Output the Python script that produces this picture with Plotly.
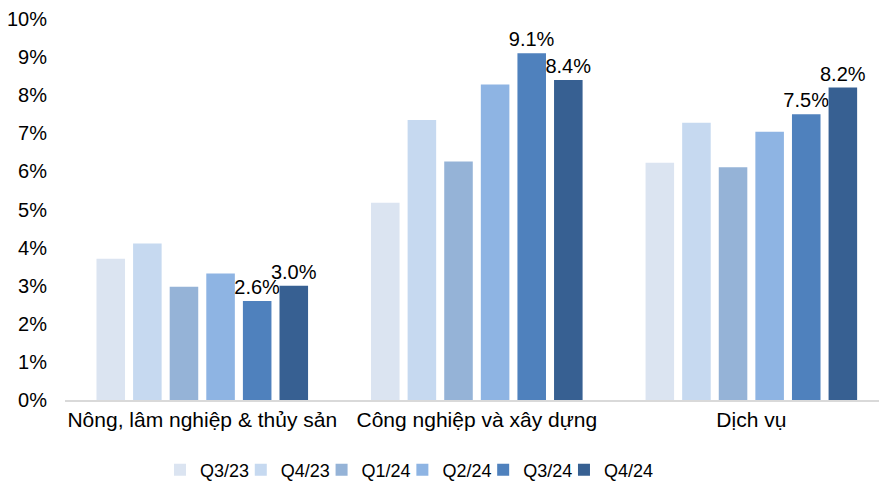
import plotly.graph_objects as go

categories = ["Nông, lâm nghiệp & thủy sản", "Công nghiệp và xây dựng", "Dịch vụ"]
series_names = ["Q3/23", "Q4/23", "Q1/24", "Q2/24", "Q3/24", "Q4/24"]
q3_23 = [3.71, 5.18, 6.23]
q4_23 = [4.11, 7.35, 7.28]
q1_24 = [2.97, 6.26, 6.11]
q2_24 = [3.32, 8.28, 7.04]
q3_24 = [2.6, 9.1, 7.5]
q4_24 = [3.0, 8.4, 8.2]
series_values = [q3_23, q4_23, q1_24, q2_24, q3_24, q4_24]
colors = ["#DBE4F1", "#C6D9F0", "#95B3D7", "#8EB4E3", "#4F81BD", "#376092"]
show_labels = [False, False, False, False, True, True]
y_ticks = [0, 1, 2, 3, 4, 5, 6, 7, 8, 9, 10]

FONT = "Liberation Sans, Arial, sans-serif"
LEGEND_X0 = 0.182
LEGEND_STEP = 80.8 / 879

fig = go.Figure()
legend_layouts = {}
for i, (name, vals, col, lab) in enumerate(zip(series_names, series_values, colors, show_labels)):
    lg = "legend" if i == 0 else f"legend{i + 1}"
    fig.add_trace(go.Bar(
        name=name,
        x=categories,
        y=vals,
        marker=dict(color=col, line=dict(width=0)),
        text=[f"{v:.1f}%" for v in vals] if lab else None,
        textposition="outside" if lab else None,
        constraintext="none",
        textfont=dict(family=FONT, size=20, color="#000000"),
        cliponaxis=False,
        hoverinfo="skip",
        legend=lg,
    ))
    legend_layouts[lg] = dict(
        orientation="h",
        xref="container", yref="container",
        x=LEGEND_X0 + i * LEGEND_STEP, xanchor="left",
        y=0.027, yanchor="middle",
        font=dict(family=FONT, size=18, color="#000000"),
        itemwidth=30,
        bgcolor="rgba(0,0,0,0)",
    )

fig.update_layout(
    width=879, height=483,
    margin=dict(l=65, r=0, t=19, b=83, autoexpand=False),
    paper_bgcolor="white",
    plot_bgcolor="white",
    barmode="group",
    bargap=0.2,
    bargroupgap=0.22,
    font=dict(family=FONT, size=20, color="#000000"),
    showlegend=True,
    **legend_layouts,
)
fig.update_xaxes(
    type="category",
    range=[-0.5, 2.465],
    automargin=False,
    showline=True, linecolor="#D9D9D9", linewidth=1.5,
    ticks="", showgrid=False,
    tickfont=dict(family=FONT, size=21, color="#000000"),
)
fig.update_yaxes(
    range=[0, 10],
    automargin=False,
    tickvals=y_ticks,
    ticktext=[f"{t}%" for t in y_ticks],
    showgrid=False, zeroline=False, showline=False,
    ticks="",
    ticklabelstandoff=17,
    tickfont=dict(family=FONT, size=20, color="#000000"),
)

fig.write_html("out.html", post_script="document.body.style.margin='0';",
               config={"displayModeBar": False})
